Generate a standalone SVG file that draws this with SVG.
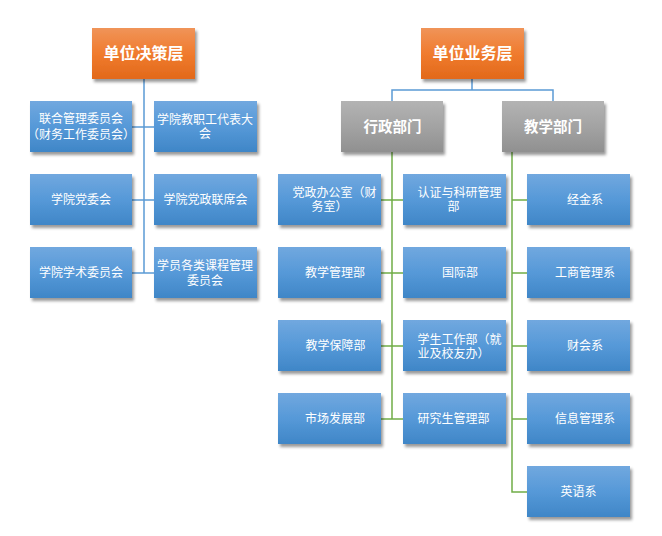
<svg xmlns="http://www.w3.org/2000/svg" width="662" height="536" viewBox="0 0 662 536">
<style>
text{font-family:"Noto Sans CJK SC","Liberation Sans",sans-serif;fill:#ffffff}
.t{font-size:12px;text-anchor:middle}
.s{font-size:12px;text-anchor:start}
.h{font-size:16px;font-weight:bold;text-anchor:middle}
.g{font-size:14.5px;font-weight:bold;text-anchor:middle}
.blue{fill:url(#gBlue);filter:url(#sh)}
.orange{fill:url(#gOrange);filter:url(#sh)}
.gray{fill:url(#gGray);filter:url(#sh)}
.cb{fill:none;stroke:#5b9bd5;stroke-width:1.5}
.cg{fill:none;stroke:#70ad47;stroke-width:1.5}
</style>
<defs>
<linearGradient id="gBlue" x1="0" y1="0" x2="0" y2="1">
<stop offset="0" stop-color="#71a8df"/><stop offset="0.5" stop-color="#5699d8"/><stop offset="1" stop-color="#3f86c7"/>
</linearGradient>
<linearGradient id="gOrange" x1="0" y1="0" x2="0" y2="1">
<stop offset="0" stop-color="#f09459"/><stop offset="0.5" stop-color="#f07b2e"/><stop offset="1" stop-color="#e2691a"/>
</linearGradient>
<linearGradient id="gGray" x1="0" y1="0" x2="0" y2="1">
<stop offset="0" stop-color="#b3b3b3"/><stop offset="0.5" stop-color="#a3a3a3"/><stop offset="1" stop-color="#909090"/>
</linearGradient>
<filter id="sh" x="-10%" y="-10%" width="130%" height="140%">
<feDropShadow dx="2" dy="3" stdDeviation="1.8" flood-color="#000" flood-opacity="0.4"/>
</filter>
</defs>

<g id="connectors">
<path class="cb" d="M144 79V273M132 127H154M132 200H154M132 273H154"/>
<path class="cb" d="M472 79V90H392V101M472 90H553V101"/>
<path class="cg" d="M392 152V419M381 200H403M381 273H403M381 346H403M381 419H403"/>
<path class="cg" d="M512 152V492H527M512 200H527M512 273H527M512 346H527M512 419H527"/>
</g>

<g id="n-juece"><rect class="orange" x="92" y="28" width="103" height="51"/><text class="h" x="143.5" y="59">单位决策层</text></g>
<g id="n-lianhe"><rect class="blue" x="30" y="101" width="102" height="51"/><text class="t" x="81" y="122.5">联合管理委员会</text><text class="t" x="81" y="139">（财务工作委员会）</text></g>
<g id="n-jiaozhi"><rect class="blue" x="154" y="101" width="103" height="51"/><text class="t" x="205" y="124">学院教职工代表大</text><text class="t" x="205" y="138">会</text></g>
<g id="n-dangwei"><rect class="blue" x="30" y="174" width="102" height="51"/><text class="t" x="81" y="204.3">学院党委会</text></g>
<g id="n-lianxi"><rect class="blue" x="154" y="174" width="103" height="51"/><text class="t" x="205.5" y="204.3">学院党政联席会</text></g>
<g id="n-xueshu"><rect class="blue" x="30" y="247" width="102" height="51"/><text class="t" x="81" y="277.3">学院学术委员会</text></g>
<g id="n-kecheng"><rect class="blue" x="154" y="247" width="103" height="51"/><text class="t" x="205" y="270">学员各类课程管理</text><text class="t" x="205" y="284.5">委员会</text></g>

<g id="n-yewu"><rect class="orange" x="421" y="28" width="103" height="51"/><text class="h" x="472.5" y="59">单位业务层</text></g>
<g id="n-xingzheng"><rect class="gray" x="341" y="101" width="102" height="51"/><text class="g" x="392.5" y="132">行政部门</text></g>
<g id="n-jiaoxue"><rect class="gray" x="502" y="101" width="102" height="51"/><text class="g" x="553" y="132">教学部门</text></g>

<g id="n-dangzheng"><rect class="blue" x="278" y="174" width="103" height="51"/><text class="s" x="292.5" y="197.3">党政办公室（财</text><text class="s" x="311.5" y="211">务室）</text></g>
<g id="n-renzheng"><rect class="blue" x="403" y="174" width="103" height="51"/><text class="s" x="417.5" y="197.3">认证与科研管理</text><text class="s" x="447.5" y="211">部</text></g>
<g id="n-jiaoxueguanli"><rect class="blue" x="278" y="247" width="103" height="51"/><text class="t" x="335" y="277.3">教学管理部</text></g>
<g id="n-guoji"><rect class="blue" x="403" y="247" width="103" height="51"/><text class="t" x="460" y="277.3">国际部</text></g>
<g id="n-baozhang"><rect class="blue" x="278" y="320" width="103" height="51"/><text class="t" x="335.5" y="349.5">教学保障部</text></g>
<g id="n-xuesheng"><rect class="blue" x="403" y="320" width="103" height="51"/><text class="s" x="417.5" y="344.3">学生工作部（就</text><text class="s" x="417.5" y="357.5">业及校友办）</text></g>
<g id="n-shichang"><rect class="blue" x="278" y="393" width="103" height="51"/><text class="t" x="335" y="423.3">市场发展部</text></g>
<g id="n-yanjiusheng"><rect class="blue" x="403" y="393" width="103" height="51"/><text class="t" x="453.5" y="423.3">研究生管理部</text></g>

<g id="n-jingjin"><rect class="blue" x="527" y="174" width="103" height="51"/><text class="t" x="585" y="204.3">经金系</text></g>
<g id="n-gongshang"><rect class="blue" x="527" y="247" width="103" height="51"/><text class="t" x="585" y="277.3">工商管理系</text></g>
<g id="n-caihui"><rect class="blue" x="527" y="320" width="103" height="51"/><text class="t" x="585" y="350.3">财会系</text></g>
<g id="n-xinxi"><rect class="blue" x="527" y="393" width="103" height="51"/><text class="t" x="585" y="423.3">信息管理系</text></g>
<g id="n-yingyu"><rect class="blue" x="527" y="466" width="103" height="51"/><text class="t" x="578.5" y="496.3">英语系</text></g>
</svg>
